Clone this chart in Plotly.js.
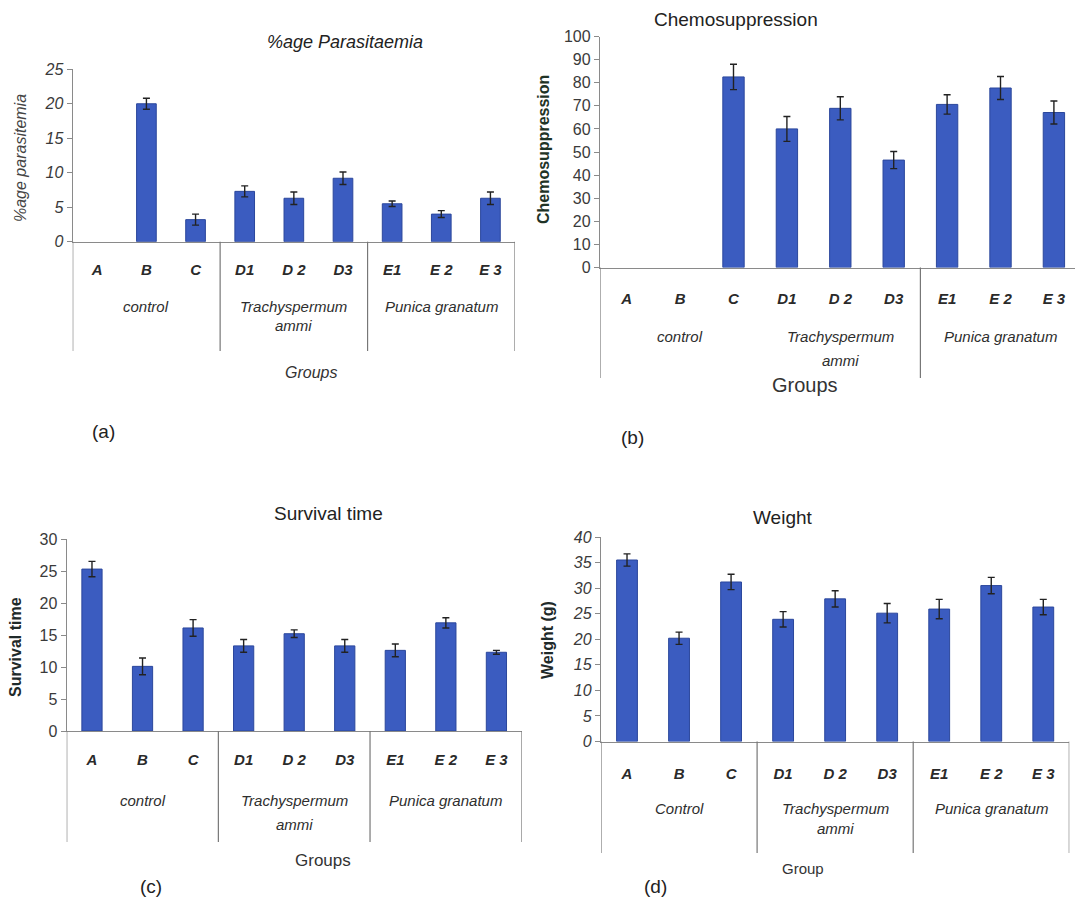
<!DOCTYPE html>
<html><head><meta charset="utf-8">
<script src="https://cdn.plot.ly/plotly-3.0.1.min.js"></script>
<style>html,body{margin:0;padding:0;background:#fff;}#chart{width:1075px;height:912px;}</style>
</head><body><div id="chart"></div>
<script>
// ---- data ----
const categories = ['A','B','C','D1','D 2','D3','E1','E 2','E 3'];
const groupSizes = [3,3,3];
const groupsLower = ['control','Trachyspermum\nammi','Punica granatum'];
const groupsUpper = ['Control','Trachyspermum\nammi','Punica granatum'];

const parasitaemia    = [null, 20.0, 3.2, 7.3, 6.3, 9.2, 5.5, 4.0, 6.3];
const parasitaemiaErr = [0, 0.8, 0.8, 0.8, 0.9, 0.9, 0.4, 0.5, 0.9];
const chemosuppression    = [null, null, 82.5, 60.0, 68.9, 46.5, 70.6, 77.7, 67.1];
const chemosuppressionErr = [0, 0, 5.5, 5.4, 5.0, 3.7, 4.2, 5.0, 5.0];
const survival    = [25.3, 10.1, 16.1, 13.3, 15.2, 13.3, 12.6, 16.9, 12.3];
const survivalErr = [1.2, 1.3, 1.3, 1.0, 0.6, 1.0, 1.0, 0.8, 0.3];
const weight    = [35.5, 20.2, 31.2, 23.9, 27.9, 25.1, 25.9, 30.5, 26.3];
const weightErr = [1.2, 1.2, 1.5, 1.5, 1.6, 1.9, 1.9, 1.6, 1.5];

// ---- layout helpers ----
const W = 1075, H = 912;
const px = x => x / W;
const py = y => 1 - y / H;
const BAR = '#3b5cc0', BAR_LINE = '#2b479c';
const FONT = 'Liberation Sans, Arial, sans-serif';
const NARROW = 'Liberation Sans Narrow, Liberation Sans, Arial, sans-serif';

const panels = [
  {key:'', vals:parasitaemia, errs:parasitaemiaErr, groups:groupsLower,
   x0:72.7, x1:515, y0:241.7, y1:69.3, ymax:25, dtick:5, yItalic:true, tickOff:14,
   grpY:306, grpGap:19, bottom:351, dividers:[-0.5,2.5,5.5,8.5], xmax:8.5,
   title:'%age Parasitaemia', titleX:265, titleY:42, titleItalic:true, titleSize:18,
   ytitle:'%age parasitemia', ytX:20, ytY:158, ytBold:false, ytItalic:true, ytColor:'#444', ytSize:16,
   xtitle:'Groups', xtX:283, xtY:372, xtSize:16, xtItalic:true,
   label:'(a)', lX:90, lY:432},
  {key:'2', vals:chemosuppression, errs:chemosuppressionErr, groups:groupsLower,
   x0:600, x1:1075, y0:267.5, y1:36.5, ymax:100, dtick:10, yItalic:false, tickOff:17,
   grpY:336, grpGap:24, bottom:378, dividers:[-0.5,5.5], xmax:8.395,
   title:'Chemosuppression', titleX:820, titleY:20, titleItalic:false, titleSize:19,
   ytitle:'Chemosuppression', ytX:543, ytY:150, ytBold:true, ytItalic:false, ytColor:'#1f3326', ytSize:16,
   xtitle:'Groups', xtX:840, xtY:385, xtSize:20, xtItalic:false,
   label:'(b)', lX:632, lY:437},
  {key:'3', vals:survival, errs:survivalErr, groups:groupsLower,
   x0:66.7, x1:521.7, y0:731, y1:539, ymax:30, dtick:5, yItalic:false, tickOff:15,
   grpY:800, grpGap:24, bottom:842, dividers:[-0.5,2.5,5.5,8.5], xmax:8.5,
   title:'Survival time', titleX:272, titleY:513, titleItalic:false, titleSize:19,
   ytitle:'Survival time', ytX:15, ytY:647, ytBold:true, ytItalic:false, ytColor:'#1f2a2a', ytSize:16,
   xtitle:'Groups', xtX:293, xtY:860, xtSize:17, xtItalic:false,
   label:'(c)', lX:138, lY:886},
  {key:'4', vals:weight, errs:weightErr, groups:groupsUpper,
   x0:601, x1:1069.3, y0:741.5, y1:537, ymax:40, dtick:5, yItalic:true, tickOff:18,
   grpY:808, grpGap:20, bottom:853, dividers:[-0.5,2.5,5.5,8.5], xmax:8.5,
   title:'Weight', titleX:815, titleY:517, titleItalic:false, titleSize:19,
   ytitle:'Weight (g)', ytX:547, ytY:640, ytBold:true, ytItalic:false, ytColor:'#1f2a2a', ytSize:16,
   xtitle:'Group', xtX:826, xtY:868, xtSize:15, xtItalic:false,
   label:'(d)', lX:655, lY:886}
];

const data = [], shapes = [], annotations = [];
const layout = {width:W, height:H, margin:{l:0,r:0,t:0,b:0}, showlegend:false,
  paper_bgcolor:'#fff', plot_bgcolor:'rgba(0,0,0,0)', bargap:0.6,
  shapes:shapes, annotations:annotations};

panels.forEach(p => {
  const xa = 'xaxis' + p.key, ya = 'yaxis' + p.key;
  const xr = 'x' + p.key, yr = 'y' + p.key;
  data.push({type:'bar', x:categories, y:p.vals, xaxis:xr, yaxis:yr,
    marker:{color:BAR, line:{color:BAR_LINE, width:1}},
    error_y:{type:'data', array:p.errs, visible:true, color:'#222', thickness:1.4, width:3.5},
    hoverinfo:'x+y'});
  layout[xa] = {domain:[px(p.x0), Math.min(1, px(p.x1))], anchor:yr, type:'category',
    range:[-0.5, p.xmax], showgrid:false, zeroline:false, showline:true,
    linecolor:'#8a8a8a', linewidth:1.2, ticks:'outside', ticklen:p.tickOff,
    tickcolor:'rgba(0,0,0,0)', fixedrange:true,
    tickfont:{family:FONT, size:15, color:'#2a2a2a', style:'italic', weight:'bold'}};
  layout[ya] = {domain:[py(p.y0), py(p.y1)], anchor:xr, range:[0, p.ymax], dtick:p.dtick,
    showgrid:false, zeroline:false, showline:true, linecolor:'#8a8a8a', linewidth:1.2,
    ticks:'outside', ticklen:5, tickcolor:'#8a8a8a', fixedrange:true,
    tickfont:{family:NARROW, size:16, color:'#3a3a3a', style:p.yItalic?'italic':'normal'}};
  // divider lines of the multi-level category axis
  p.dividers.forEach(d => shapes.push({type:'line', xref:xr, yref:'paper',
    x0:d, x1:d, y0:py(p.y0), y1:py(p.bottom), line:{color:'#777', width:1.2}}));
  // group labels
  let start = 0;
  groupSizes.forEach((n, gi) => {
    const center = start + (n - 1) / 2;
    p.groups[gi].split('\n').forEach((line, li) => annotations.push({
      xref:xr, yref:'paper', x:center, y:py(p.grpY + li * p.grpGap), yanchor:'middle',
      text:line, showarrow:false,
      font:{family:NARROW, size:15, color:'#2e2e2e', style:'italic'}}));
    start += n;
  });
  // titles and labels
  annotations.push({xref:'paper', yref:'paper', x:px(p.titleX), y:py(p.titleY),
    text:p.title, showarrow:false, yanchor:'middle',
    font:{family:FONT, size:p.titleSize, color:'#222', style:p.titleItalic?'italic':'normal'}});
  annotations.push({xref:'paper', yref:'paper', x:px(p.ytX), y:py(p.ytY),
    text:p.ytitle, showarrow:false, textangle:-90, xanchor:'center', yanchor:'middle',
    font:{family:FONT, size:p.ytSize, color:p.ytColor, weight:p.ytBold?'bold':'normal',
          style:p.ytItalic?'italic':'normal'}});
  annotations.push({xref:'paper', yref:'paper', x:px(p.xtX), y:py(p.xtY),
    text:p.xtitle, showarrow:false, yanchor:'middle',
    font:{family:FONT, size:p.xtSize, color:'#333', style:p.xtItalic?'italic':'normal'}});
  annotations.push({xref:'paper', yref:'paper', x:px(p.lX), y:py(p.lY),
    text:p.label, showarrow:false, yanchor:'middle',
    font:{family:FONT, size:19, color:'#222'}});
});

Plotly.newPlot('chart', data, layout, {staticPlot:true, displayModeBar:false});
</script></body></html>
